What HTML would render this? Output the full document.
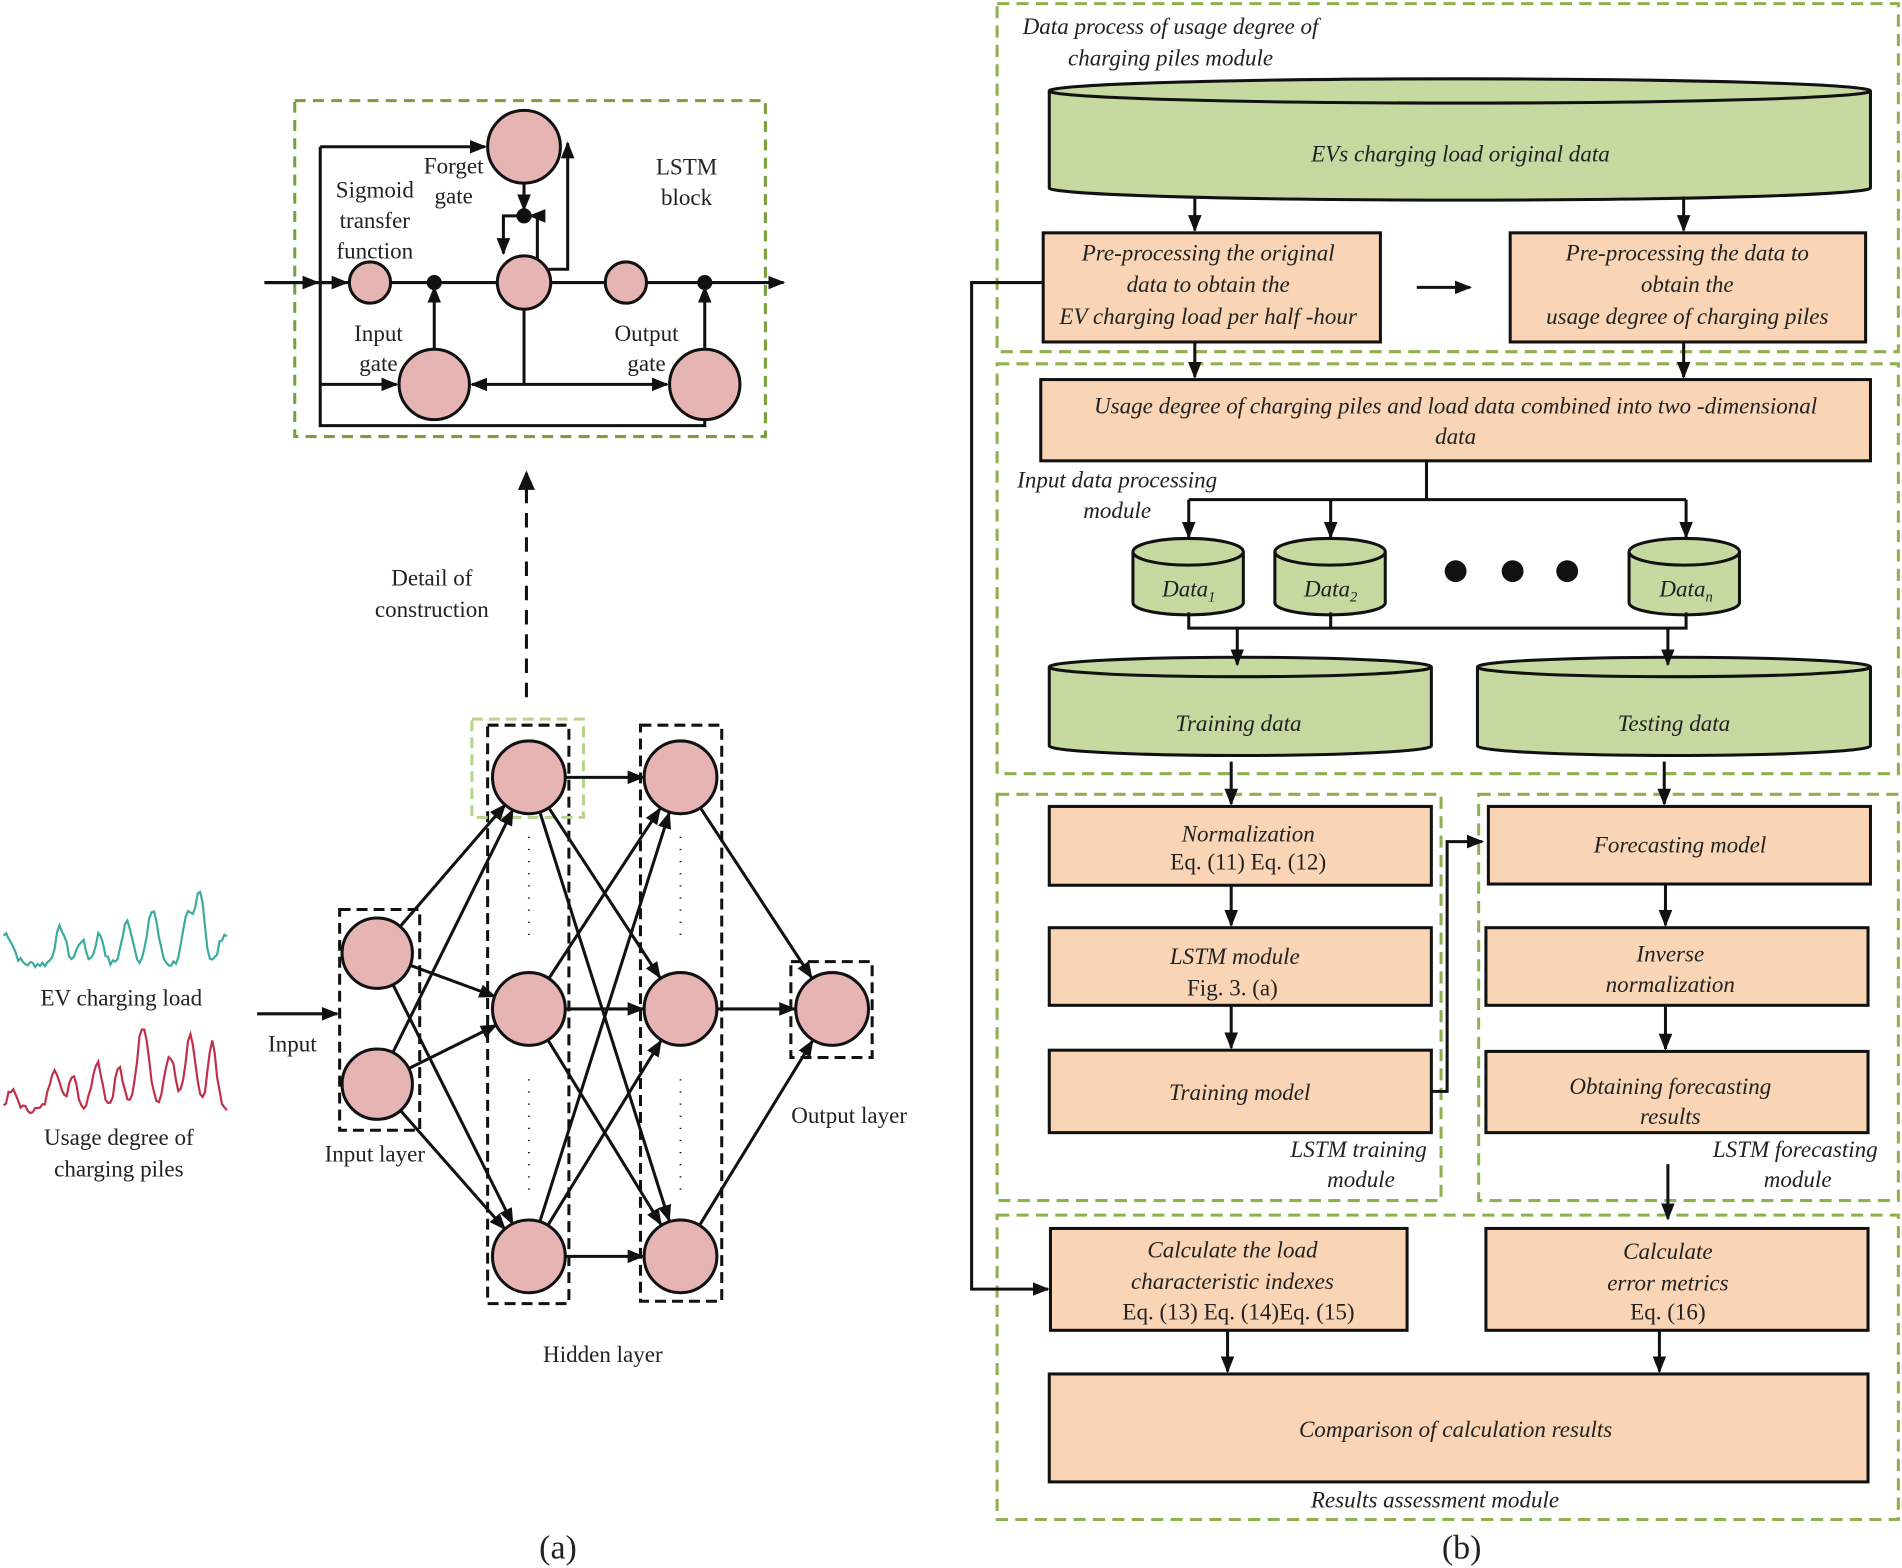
<!DOCTYPE html>
<html><head><meta charset="utf-8"><style>
html,body{margin:0;padding:0;background:#fff;}
svg{display:block;}
text{font-family:"Liberation Serif",serif;fill:#222;}
.t{font-size:19px;text-anchor:middle;font-style:normal;}
.i{font-size:19px;font-style:italic;text-anchor:middle;}
</style></head><body>
<svg width="1902" height="1568" viewBox="0 0 1568 1293" preserveAspectRatio="none" xmlns="http://www.w3.org/2000/svg">
<defs>
<marker id="b" viewBox="0 0 10 10" refX="9" refY="5" markerWidth="14" markerHeight="14" orient="auto" markerUnits="userSpaceOnUse"><path d="M0,1 L10,5 L0,9 z" fill="#111"/></marker>
</defs>
<g stroke="#111" stroke-width="2.5" fill="none">
<rect x="243" y="83" width="388" height="277" stroke="#7a9e3a" stroke-dasharray="9,6"/>
<line x1="218" y1="233" x2="646" y2="233" marker-end="url(#b)"/>
<line x1="218" y1="233" x2="262" y2="233" marker-end="url(#b)"/>
<line x1="264" y1="233" x2="286" y2="233" marker-end="url(#b)"/>
<path d="M264,121 V351 H581 V346"/>
<line x1="264" y1="121" x2="400" y2="121" marker-end="url(#b)"/>
<line x1="264" y1="317" x2="327" y2="317" marker-end="url(#b)"/>
<line x1="432" y1="255" x2="432" y2="317"/>
<line x1="432" y1="317" x2="389" y2="317" marker-end="url(#b)"/>
<line x1="432" y1="317" x2="550" y2="317" marker-end="url(#b)"/>
<line x1="358" y1="288" x2="358" y2="237" marker-end="url(#b)"/>
<line x1="581" y1="288" x2="581" y2="237" marker-end="url(#b)"/>
<line x1="432" y1="151" x2="432" y2="173" marker-end="url(#b)"/>
<path d="M432,178 H415 V209" marker-end="url(#b)"/>
<path d="M443,214 V178 H437" marker-end="url(#b)"/>
<path d="M452,222 H468 V118" marker-end="url(#b)"/>
<g fill="#e6b5b3">
<circle cx="432" cy="121" r="30"/><circle cx="305" cy="233" r="17"/><circle cx="432" cy="233" r="22"/><circle cx="516" cy="233" r="17"/>
<circle cx="358" cy="317" r="29"/><circle cx="581" cy="317" r="29"/></g>
<g fill="#111"><circle cx="358" cy="233" r="5"/><circle cx="581" cy="233" r="5"/><circle cx="432" cy="178" r="5"/></g>
<line x1="434" y1="575" x2="434" y2="390" stroke-dasharray="12,8"/>
<path d="M434,388 l-7,16 h14 z" fill="#111" stroke="none"/>
<line x1="212" y1="836" x2="278" y2="836" marker-end="url(#b)"/>
<rect x="280" y="750" width="66" height="182" stroke-dasharray="9,5"/>
<rect x="402" y="598" width="67" height="477" stroke-dasharray="9,5"/>
<rect x="528" y="598" width="67" height="475" stroke-dasharray="9,5"/>
<rect x="652" y="793" width="67" height="79" stroke-dasharray="9,5"/>
<rect x="389" y="593" width="92" height="81" stroke="#b9d38f" stroke-dasharray="9,5"/>
<g stroke-width="1.5" stroke-dasharray="1,9"><line x1="436" y1="690" x2="436" y2="780"/><line x1="436" y1="890" x2="436" y2="985"/><line x1="561" y1="690" x2="561" y2="780"/><line x1="561" y1="890" x2="561" y2="985"/></g>
<g id="conn"></g>
<g fill="#e6b5b3">
<circle cx="311" cy="786" r="29"/><circle cx="311" cy="894" r="29"/>
<circle cx="436" cy="641" r="30"/><circle cx="436" cy="832" r="30"/><circle cx="436" cy="1036" r="30"/>
<circle cx="561" cy="641" r="30"/><circle cx="561" cy="832" r="30"/><circle cx="561" cy="1036" r="30"/>
<circle cx="686" cy="832" r="30"/></g>
<polyline id="w1" stroke="#3aab9e" stroke-width="1.8"/>
<polyline id="w2" stroke="#c0304a" stroke-width="1.8"/>
</g>
<g>
<text x="374" y="143" class="t">Forget</text><text x="374" y="168" class="t">gate</text>
<text x="309" y="163" class="t">Sigmoid</text><text x="309" y="188" class="t">transfer</text><text x="309" y="213" class="t">function</text>
<text x="566" y="144" class="t">LSTM</text><text x="566" y="169" class="t">block</text>
<text x="312" y="281" class="t">Input</text><text x="312" y="306" class="t">gate</text>
<text x="533" y="281" class="t">Output</text><text x="533" y="306" class="t">gate</text>
<text x="356" y="483" class="t">Detail of</text><text x="356" y="509" class="t">construction</text>
<text x="241" y="867" class="t">Input</text><text x="309" y="958" class="t">Input layer</text>
<text x="497" y="1123" class="t">Hidden layer</text><text x="700" y="926" class="t">Output layer</text>
<text x="100" y="829" class="t">EV charging load</text>
<text x="98" y="944" class="t">Usage degree of</text><text x="98" y="970" class="t">charging piles</text>
<text x="460" y="1285" class="t" style="font-size:28px">(a)</text>
<text x="1205" y="1285" class="t" style="font-size:28px">(b)</text>
</g>
<g stroke="#111" stroke-width="2.5" fill="none">
<g stroke="#8fb04e" stroke-dasharray="10,6">
<rect x="822" y="3" width="743" height="287"/><rect x="822" y="300" width="743" height="338"/>
<rect x="822" y="655" width="366" height="335"/><rect x="1219" y="655" width="346" height="335"/>
<rect x="822" y="1002" width="743" height="251"/></g>
<g fill="#c5d9a0">
<path d="M865,75 V155 A338,10 0 0 0 1542,155 V75"/><ellipse cx="1203.5" cy="75" rx="338.5" ry="10"/>
<path d="M934,455 V497 A45.5,10 0 0 0 1025,497 V455"/><ellipse cx="979.5" cy="455" rx="45.5" ry="11"/>
<path d="M1051,455 V497 A45.5,10 0 0 0 1142,497 V455"/><ellipse cx="1096.5" cy="455" rx="45.5" ry="11"/>
<path d="M1343,455 V497 A45.5,10 0 0 0 1434,497 V455"/><ellipse cx="1388.5" cy="455" rx="45.5" ry="11"/>
<path d="M865,550 V615 A157.5,8 0 0 0 1180,615 V550"/><ellipse cx="1022.5" cy="550" rx="157.5" ry="8"/>
<path d="M1218,550 V615 A162,8 0 0 0 1542,615 V550"/><ellipse cx="1380" cy="550" rx="162" ry="8"/>
</g>
<g fill="#f9d5b5">
<rect x="860" y="192" width="278" height="90"/><rect x="1245" y="192" width="293" height="90"/>
<rect x="858" y="313" width="684" height="67"/>
<rect x="865" y="665" width="315" height="65"/><rect x="865" y="765" width="315" height="64"/><rect x="865" y="866" width="315" height="68"/>
<rect x="1227" y="665" width="315" height="64"/><rect x="1225" y="765" width="315" height="64"/><rect x="1225" y="867" width="315" height="67"/>
<rect x="866" y="1013" width="294" height="84"/><rect x="1225" y="1013" width="315" height="84"/>
<rect x="865" y="1133" width="675" height="89"/>
</g>
<g marker-end="url(#b)">
<line x1="985" y1="162" x2="985" y2="190"/><line x1="1388" y1="162" x2="1388" y2="190"/>
<line x1="1168" y1="237" x2="1212" y2="237"/>
<line x1="985" y1="282" x2="985" y2="311"/><line x1="1388" y1="282" x2="1388" y2="311"/>
<line x1="980" y1="412" x2="980" y2="443"/><line x1="1097" y1="412" x2="1097" y2="443"/><line x1="1390" y1="412" x2="1390" y2="443"/>
<line x1="1020" y1="518" x2="1020" y2="548"/><line x1="1375" y1="518" x2="1375" y2="548"/>
<line x1="1015" y1="628" x2="1015" y2="663"/><line x1="1372" y1="628" x2="1372" y2="663"/>
<line x1="1015" y1="730" x2="1015" y2="763"/><line x1="1015" y1="829" x2="1015" y2="864"/>
<line x1="1373" y1="729" x2="1373" y2="763"/><line x1="1373" y1="829" x2="1373" y2="865"/>
<path d="M1180,900 H1193 V694 H1222"/>
<line x1="1375" y1="960" x2="1375" y2="1005"/>
<line x1="1012" y1="1097" x2="1012" y2="1131"/><line x1="1368" y1="1097" x2="1368" y2="1131"/>
<path d="M860,233 H801 V1063 H864"/>
</g>
<path d="M1176,380 V412 M980,412 H1390 M980,505 V518 H1390 V505 M1097,505 V518"/>
<g fill="#111" stroke="none"><circle cx="1200" cy="471" r="9"/><circle cx="1247" cy="471" r="9"/><circle cx="1292" cy="471" r="9"/></g>
</g>
<g>
<text x="965" y="28" class="i">Data process of usage degree of</text><text x="965" y="54" class="i">charging piles module</text>
<text x="1204" y="133" class="i">EVs charging load original data</text>
<text x="996" y="215" class="i">Pre-processing the original</text><text x="996" y="241" class="i">data to obtain the</text><text x="996" y="267" class="i">EV charging load per half -hour</text>
<text x="1391" y="215" class="i">Pre-processing the data to</text><text x="1391" y="241" class="i">obtain the</text><text x="1391" y="267" class="i">usage degree of charging piles</text>
<text x="1200" y="341" class="i">Usage degree of charging piles and load data combined into two -dimensional</text><text x="1200" y="366" class="i">data</text>
<text x="921" y="402" class="i">Input data processing</text><text x="921" y="427" class="i">module</text>
<text x="980" y="492" class="i">Data<tspan font-size="12" dy="4">1</tspan></text>
<text x="1097" y="492" class="i">Data<tspan font-size="12" dy="4">2</tspan></text>
<text x="1390" y="492" class="i">Data<tspan font-size="12" dy="4">n</tspan></text>
<text x="1021" y="603" class="i">Training data</text><text x="1380" y="603" class="i">Testing data</text>
<text x="1029" y="694" class="i">Normalization</text><text x="1029" y="717" class="t">Eq. (11) Eq. (12)</text>
<text x="1018" y="795" class="i">LSTM module</text><text x="1016" y="821" class="t">Fig. 3. (a)</text>
<text x="1022" y="907" class="i">Training model</text>
<text x="1120" y="954" class="i">LSTM training</text><text x="1122" y="979" class="i">module</text>
<text x="1385" y="703" class="i">Forecasting model</text>
<text x="1377" y="793" class="i">Inverse</text><text x="1377" y="818" class="i">normalization</text>
<text x="1377" y="902" class="i">Obtaining forecasting</text><text x="1377" y="927" class="i">results</text>
<text x="1480" y="954" class="i">LSTM forecasting</text><text x="1482" y="979" class="i">module</text>
<text x="1016" y="1037" class="i">Calculate the load</text><text x="1016" y="1063" class="i">characteristic indexes</text><text x="1021" y="1088" class="t">Eq. (13) Eq. (14)Eq. (15)</text>
<text x="1375" y="1038" class="i">Calculate</text><text x="1375" y="1064" class="i">error metrics</text><text x="1375" y="1088" class="t">Eq. (16)</text>
<text x="1200" y="1185" class="i">Comparison of calculation results</text>
<text x="1183" y="1243" class="i">Results assessment module</text>
</g>
</svg>
<script>
var ns="http://www.w3.org/2000/svg",g=document.getElementById("conn");
function L(x1,y1,x2,y2,r){var dx=x2-x1,dy=y2-y1,d=Math.hypot(dx,dy);var l=document.createElementNS(ns,"line");
l.setAttribute("x1",x1+dx/d*r);l.setAttribute("y1",y1+dy/d*r);l.setAttribute("x2",x2-dx/d*(r+1));l.setAttribute("y2",y2-dy/d*(r+1));l.setAttribute("marker-end","url(#b)");g.appendChild(l);}
var I=[[311,786],[311,894]],H1=[[436,641],[436,832],[436,1036]],H2=[[561,641],[561,832],[561,1036]];
I.forEach(function(a){H1.forEach(function(b){L(a[0],a[1],b[0],b[1],29);});});
H1.forEach(function(a){H2.forEach(function(b){L(a[0],a[1],b[0],b[1],30);});});
H2.forEach(function(a){L(a[0],a[1],686,832,30);});
var s=7;function rnd(){s=(s*9301+49297)%233280;return s/233280;}
function wave(id,y0,amp,peaks){var p=[];for(var x=3;x<=187;x+=2){var v=0;peaks.forEach(function(k){v+=k[1]*Math.exp(-Math.pow((x-k[0])/k[2],2));});v+= (rnd()-0.5)*6;p.push(x+","+(y0-v*amp).toFixed(1));}document.getElementById(id).setAttribute("points",p.join(" "));}
wave("w1",795,1,[[5,25,8],[50,30,6],[67,20,5],[82,25,5],[105,35,6],[126,45,6],[155,40,6],[165,60,5],[185,25,6]]);
wave("w2",915,1,[[10,15,6],[45,35,6],[80,40,6],[98,35,5],[118,70,7],[140,45,6],[157,60,6],[175,55,5],[60,30,5]]);
</script>
</body></html>
